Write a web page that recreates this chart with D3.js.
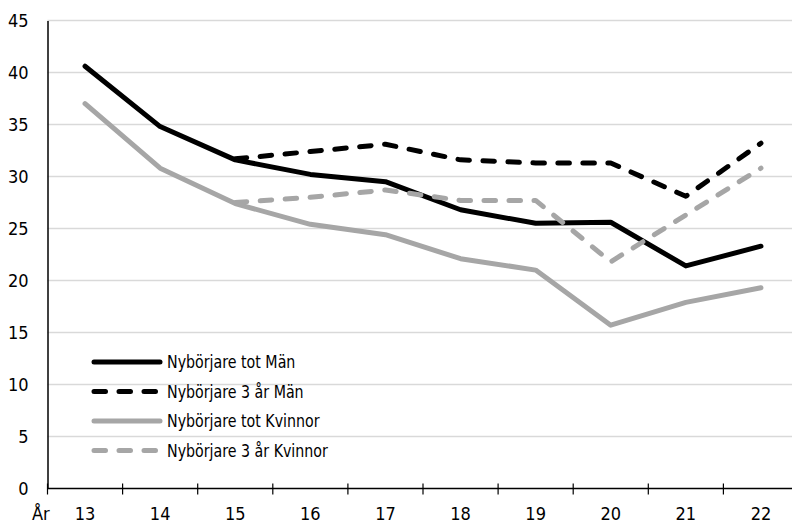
<!DOCTYPE html>
<html>
<head>
<meta charset="utf-8">
<script src="https://cdn.jsdelivr.net/npm/d3@7"></script>
<style>
  html, body { margin: 0; padding: 0; background: #fff; overflow: hidden; }
  svg { display: block; }
  text { font-family: "Liberation Sans Narrow", "DejaVu Sans Condensed", "Arial Narrow", sans-serif; fill: #000; }
</style>
</head>
<body>
<svg id="chart" width="792" height="523"></svg>
<script>
// Years (two-digit) on the category axis
const years = ["13", "14", "15", "16", "17", "18", "19", "20", "21", "22"];
const yTicks = [0, 5, 10, 15, 20, 25, 30, 35, 40, 45];

// Series values, percent
const totMan   = [40.6, 34.8, 31.6, 30.2, 29.5, 26.8, 25.5, 25.6, 21.4, 23.3];
const treArMan = [null, null, 31.7, 32.4, 33.1, 31.6, 31.3, 31.3, 28.1, 33.2];
const totKv    = [37.0, 30.8, 27.4, 25.4, 24.4, 22.1, 21.0, 15.7, 17.9, 19.3];
const treArKv  = [null, null, 27.5, 28.0, 28.7, 27.7, 27.7, 21.8, 26.3, 30.8];

const seriesNames = ["Nybörjare tot Män", "Nybörjare 3 år Män", "Nybörjare tot Kvinnor", "Nybörjare 3 år Kvinnor"];

const series = [
  { name: seriesNames[0], values: totMan,   color: "#000000", dashed: false },
  { name: seriesNames[1], values: treArMan, color: "#000000", dashed: true },
  { name: seriesNames[2], values: totKv,    color: "#a6a6a6", dashed: false },
  { name: seriesNames[3], values: treArKv,  color: "#a6a6a6", dashed: true }
];

const svg = d3.select("#chart");
const plotLeft = 47.5, plotTop = 20.5, plotBottom = 488.5;
const band = 75.1;

const x = d3.scaleBand().domain(years).range([plotLeft, plotLeft + band * years.length]).padding(0);
const y = d3.scaleLinear().domain([0, 45]).range([plotBottom, plotTop]);

// Horizontal gridlines
svg.append("g").selectAll("line")
  .data(yTicks.filter(d => d > 0))
  .join("line")
  .attr("x1", plotLeft).attr("x2", 792)
  .attr("y1", d => y(d)).attr("y2", d => y(d))
  .attr("stroke", "#d9d9d9").attr("stroke-width", 1.5);

// Y axis
const yAxis = svg.append("g")
  .attr("transform", `translate(${plotLeft},0)`)
  .call(d3.axisLeft(y).tickValues(yTicks).tickSize(0).tickPadding(19));
yAxis.select(".domain").attr("stroke", "#000").attr("stroke-width", 1.5);
yAxis.selectAll("text").attr("font-size", 18).attr("font-family", null);

// X axis with tick marks between categories
const xAxis = svg.append("g").attr("transform", `translate(0,${plotBottom})`);
xAxis.append("line")
  .attr("x1", plotLeft).attr("x2", 800)
  .attr("stroke", "#000").attr("stroke-width", 1.5);
const bounds = years.map(d => x(d)).concat([x(years[years.length - 1]) + x.bandwidth()]);
xAxis.selectAll("line.tick")
  .data(bounds)
  .join("line")
  .attr("class", "tick")
  .attr("x1", d => d).attr("x2", d => d)
  .attr("y1", -5).attr("y2", 6)
  .attr("stroke", "#000").attr("stroke-width", 1.2);
xAxis.selectAll("text.lab")
  .data(years)
  .join("text")
  .attr("class", "lab")
  .attr("x", d => x(d) + x.bandwidth() / 2)
  .attr("y", 31.5)
  .attr("text-anchor", "middle")
  .attr("font-size", 18)
  .text(d => d);
xAxis.append("text")
  .attr("x", 32).attr("y", 31.5)
  .attr("font-size", 18)
  .text("År");

// Lines
const line = d3.line()
  .defined(d => d.v != null)
  .x(d => x(d.k) + x.bandwidth() / 2)
  .y(d => y(d.v));

svg.append("g").selectAll("path")
  .data(series)
  .join("path")
  .attr("d", s => line(s.values.map((v, i) => ({ k: years[i], v }))))
  .attr("fill", "none")
  .attr("stroke", s => s.color)
  .attr("stroke-width", 5)
  .attr("stroke-linejoin", "round")
  .attr("stroke-linecap", "round")
  .attr("stroke-dasharray", s => s.dashed ? "11.5,13.5" : null);

// Legend
const legend = svg.append("g");
const rowY = [362, 391.5, 421, 450.5];
const rows = legend.selectAll("g")
  .data(series)
  .join("g")
  .attr("transform", (d, i) => `translate(0,${rowY[i]})`);
rows.append("line")
  .attr("x1", 94).attr("x2", 160)
  .attr("stroke", d => d.color)
  .attr("stroke-width", 5)
  .attr("stroke-linecap", "round")
  .attr("stroke-dasharray", d => d.dashed ? "11.5,13.5" : null);
rows.append("text")
  .attr("transform", "translate(167,6) scale(0.93,1)")
  .attr("font-size", 17)
  .text(d => d.name);
</script>
</body>
</html>
